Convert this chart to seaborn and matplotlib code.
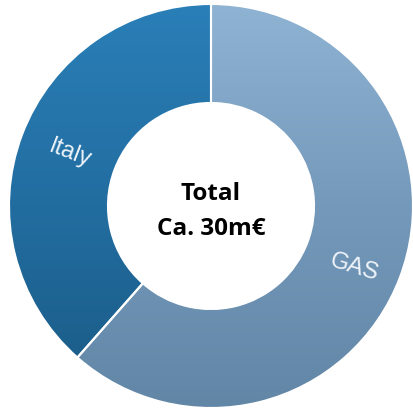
import numpy as np
import matplotlib
matplotlib.use("Agg")
import matplotlib.pyplot as plt
from matplotlib.colors import LinearSegmentedColormap
import seaborn as sns

categories = ["GAS", "Italy"]
values = [61.5, 38.5]
center_lines = ["Total", "Ca. 30m€"]

sns.set_theme(style="white")

W, H = 413, 411
cx, cy, R = 211, 206, 202  # pixel geometry of the donut
fig = plt.figure(figsize=(W / 100, H / 100), dpi=100)
ax = fig.add_axes([0, 0, 1, 1])
ax.set_xlim(-cx / R, (W - cx) / R)
ax.set_ylim(-(H - cy) / R, cy / R)
ax.set_aspect("equal")
ax.axis("off")

wedges, _ = ax.pie(values, startangle=90, counterclock=False, radius=1.0,
                   wedgeprops=dict(width=0.49, edgecolor="white", linewidth=1.5))

grads = {
    "GAS": ["#8fb3d3", "#7599ba", "#6186a6"],
    "Italy": ["#2a7fb8", "#226da0", "#1a5a85"],
}
grad = np.linspace(0, 1, 256).reshape(-1, 1)
for w, cat in zip(wedges, categories):
    cmap = LinearSegmentedColormap.from_list(cat, grads[cat])
    im = ax.imshow(grad, cmap=cmap, extent=(-1, 1, -1, 1), origin="upper",
                   aspect="auto", zorder=1)
    im.set_clip_path(w)
    w.set_facecolor("none")
    w.set_zorder(2)

ax.set_xlim(-cx / R, (W - cx) / R)
ax.set_ylim(-(H - cy) / R, cy / R)

def px(x, y):
    return (x - cx) / R, (cy - y) / R

x, y = px(70, 154)
ax.text(x, y, "Italy", color="#eef4fa", fontsize=17, rotation=-21,
        ha="center", va="center", family="Liberation Sans", zorder=3)
x, y = px(354, 268)
ax.text(x, y, "GAS", color="#eef4fa", fontsize=17, rotation=-17,
        ha="center", va="center", family="Liberation Sans", zorder=3)

x, y = px(211, 194)
ax.text(x, y, center_lines[0], color="black", fontsize=17.5, fontweight="bold",
        ha="center", va="center", family="Open Sans", zorder=3)
x, y = px(211, 229)
ax.text(x, y, center_lines[1], color="black", fontsize=17.5, fontweight="bold",
        ha="center", va="center", family="Open Sans", zorder=3)

fig.savefig("out.png", dpi=100, facecolor="white")
